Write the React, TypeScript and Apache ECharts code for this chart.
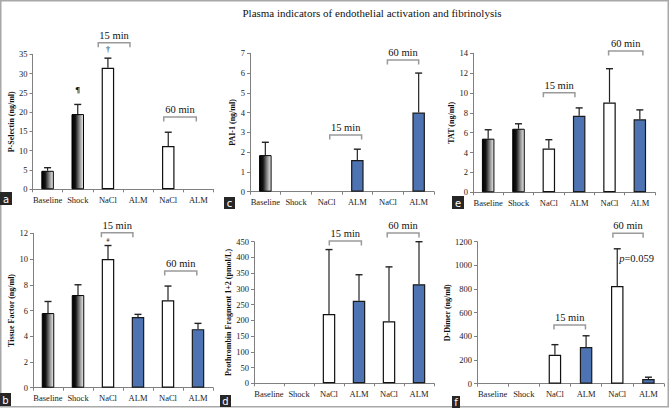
import React, { useEffect, useRef } from "react";
import * as echarts from "echarts";

const CATEGORIES = ["Baseline", "Shock", "NaCl", "ALM", "NaCl", "ALM"];
const FILLS = ["grad", "grad", "white", "blue", "white", "blue"];

// a: P-Selectin
const pSelectinMean = [4.8, 19.5, 31.5, null, 11.2, null];
const pSelectinTop = [5.6, 22.0, 34.0, null, 14.8, null];
// b: Tissue Factor
const tissueFactorMean = [5.8, 7.2, 10.0, 5.5, 6.8, 4.55];
const tissueFactorTop = [6.7, 8.0, 11.05, 5.7, 7.9, 5.0];
// c: PAI-1
const pai1Mean = [1.85, null, null, 1.6, null, 4.0];
const pai1Top = [2.5, null, null, 2.15, null, 6.0];
// d: Prothrombin Fragment 1+2
const f12Mean = [null, null, 220, 262, 197, 315];
const f12Top = [null, null, 425, 345, 370, 450];
// e: TAT
const tatMean = [5.4, 6.4, 4.4, 7.7, 9.05, 7.35];
const tatTop = [6.3, 6.9, 5.3, 8.5, 12.45, 8.3];
// f: D-Dimer
const dDimerMean = [null, null, 245, 310, 825, 40];
const dDimerTop = [null, null, 330, 405, 1140, 55];

// y-axis ranges [max, interval]
const yMaxA = [35, 5];
const yMaxB = [12, 2];
const yMaxC = [7, 1];
const yMaxD = [450, 50];
const yMaxE = [14, 2];
const yMaxF = [1200, 200];

// brackets: [startCat, endCat, yValue, label]
const bracketsA = [[1.68, 2.73, 38.0, "15 min"], [3.85, 4.93, 18.75, "60 min"]];
const bracketsB = [[1.78, 2.83, 12.05, "15 min"], [3.89, 4.96, 9.07, "60 min"]];
const bracketsC = [[2.1, 3.14, 2.87, "15 min"], [3.98, 5.0, 6.66, "60 min"]];
const bracketsD = [[2.01, 3.08, 452, "15 min"], [3.94, 5.0, 478, "60 min"]];
const bracketsE = [[1.82, 2.86, 10.03, "15 min"], [3.97, 5.1, 14.23, "60 min"]];
const bracketsF = [[1.97, 2.98, 496, "15 min"], [3.86, 4.83, 1271, "60 min"]];

// marks: [cat, yValue, text]
const marksA = [[1, 25.7, "¶"], [2, 36.3, "†"]];
const marksB = [[2, 11.45, "#"]];
const marksF = [[4.62, 1060, "{i|p}=0.059"]];

const NAMES = [
  "P-Selectin (ng/ml)",
  "Tissue Factor (ng/ml)",
  "PAI-1 (ng/ml)",
  "Prothrombin Fragment 1+2 (pmol/L)",
  "TAT (ng/ml)",
  "D-Dimer (ng/ml)",
];
const LETTERS = ["a", "b", "c", "d", "e", "f"];

const SERIF = "Liberation Serif, serif";

const panels = [
  { mean: pSelectinMean, top: pSelectinTop, y: yMaxA, br: bracketsA, marks: marksA },
  { mean: tissueFactorMean, top: tissueFactorTop, y: yMaxB, br: bracketsB, marks: marksB },
  { mean: pai1Mean, top: pai1Top, y: yMaxC, br: bracketsC, marks: [] },
  { mean: f12Mean, top: f12Top, y: yMaxD, br: bracketsD, marks: [] },
  { mean: tatMean, top: tatTop, y: yMaxE, br: bracketsE, marks: [] },
  { mean: dDimerMean, top: dDimerTop, y: yMaxF, br: bracketsF, marks: marksF },
];

// layout (pixels)
const GRIDS = [
  { left: 32.5, top: 54.3, width: 181, height: 135 },
  { left: 33, top: 233.3, width: 180, height: 154.4 },
  { left: 250, top: 53.3, width: 184, height: 138.4 },
  { left: 254, top: 241.7, width: 180, height: 141.6 },
  { left: 473, top: 53.3, width: 182, height: 139 },
  { left: 477, top: 241.7, width: 187, height: 142 },
];
const NAME_GAPS = [16, 17, 13, 18, 13, 20];
const LABEL_BOXES = [
  { x: 0, y: 192, w: 12, h: 13 },
  { x: 0, y: 393, w: 11, h: 13 },
  { x: 224, y: 197, w: 11, h: 12 },
  { x: 220, y: 395, w: 11, h: 12 },
  { x: 452, y: 196, w: 12, h: 13 },
  { x: 452, y: 396, w: 8, h: 12 },
];

function fillStyle(kind: string) {
  if (kind === "grad") {
    return {
      color: {
        type: "linear",
        x: 0,
        y: 0,
        x2: 1,
        y2: 0,
        colorStops: [
          { offset: 0, color: "#000000" },
          { offset: 0.3, color: "#141414" },
          { offset: 0.65, color: "#8a8a8a" },
          { offset: 1, color: "#f2f2f2" },
        ],
      },
      borderColor: "#000",
      borderWidth: 1,
    };
  }
  if (kind === "white") return { color: "#ffffff", borderColor: "#111", borderWidth: 1.2 };
  return { color: "#4d73b3", borderColor: "#1a1a1a", borderWidth: 1.2 };
}

function buildOption() {
  const grid: any[] = [];
  const xAxis: any[] = [];
  const yAxis: any[] = [];
  const series: any[] = [];
  const graphic: any[] = [];

  panels.forEach((p, k) => {
    grid.push({ ...GRIDS[k], containLabel: false });
    xAxis.push({
      type: "category",
      gridIndex: k,
      data: CATEGORIES,
      axisLine: { lineStyle: { color: "#808080", width: 1 } },
      axisTick: { show: true, length: 3, lineStyle: { color: "#808080" } },
      axisLabel: { fontFamily: SERIF, fontSize: 8.5, color: "#1a1a1a", margin: 6, interval: 0 },
      splitLine: { show: false },
    });
    yAxis.push({
      type: "value",
      gridIndex: k,
      min: 0,
      max: p.y[0],
      interval: p.y[1],
      name: NAMES[k],
      nameLocation: "middle",
      nameGap: NAME_GAPS[k],
      nameTextStyle: { fontFamily: SERIF, fontSize: 8, fontWeight: "bold", color: "#111" },
      axisLine: { show: true, lineStyle: { color: "#808080", width: 1 } },
      axisTick: { show: true, length: 3, lineStyle: { color: "#808080" } },
      axisLabel: {
        fontFamily: SERIF,
        fontSize: 8.5,
        color: "#1a1a1a",
        margin: 5,
        formatter: (v: number) => String(v),
      },
      splitLine: { show: false },
    });

    series.push({
      type: "bar",
      xAxisIndex: k,
      yAxisIndex: k,
      barWidth: 12.5,
      data: p.mean.map((v, i) =>
        v == null ? "-" : { value: v, itemStyle: fillStyle(FILLS[i]) }
      ),
      z: 2,
    });

    const errData = p.mean
      .map((v, i) => (v == null ? null : [i, v, p.top[i]]))
      .filter((d) => d !== null);
    series.push({
      type: "custom",
      xAxisIndex: k,
      yAxisIndex: k,
      z: 3,
      clip: false,
      data: errData,
      renderItem: (params: any, api: any) => {
        const d = errData[params.dataIndex] as number[];
        const p0 = api.coord([d[0], d[1]]);
        const p1 = api.coord([d[0], d[2]]);
        return {
          type: "group",
          children: [
            {
              type: "line",
              shape: { x1: p0[0], y1: p0[1], x2: p1[0], y2: p1[1] },
              style: { stroke: "#222", lineWidth: 1.2 },
            },
            {
              type: "line",
              shape: { x1: p1[0] - 3.5, y1: p1[1], x2: p1[0] + 3.5, y2: p1[1] },
              style: { stroke: "#222", lineWidth: 1.4 },
            },
          ],
        };
      },
    });

    const br = p.br;
    series.push({
      type: "custom",
      xAxisIndex: k,
      yAxisIndex: k,
      z: 4,
      clip: false,
      data: br.map((b) => [0, b[2]]),
      renderItem: (params: any, api: any) => {
        const b = br[params.dataIndex] as any[];
        const base = api.coord([0, b[2]]);
        const bw = api.size([1, 0])[0];
        const x1 = base[0] + b[0] * bw;
        const x2 = base[0] + b[1] * bw;
        const y = base[1];
        return {
          type: "group",
          children: [
            {
              type: "polyline",
              shape: { points: [[x1, y + 4.5], [x1, y], [x2, y], [x2, y + 4.5]] },
              style: { stroke: "#9a9a9a", lineWidth: 1.5, fill: "none" },
            },
            {
              type: "text",
              x: (x1 + x2) / 2,
              y: y - 2,
              style: {
                text: b[3],
                align: "center",
                verticalAlign: "bottom",
                fontFamily: SERIF,
                fontSize: 10.5,
                fill: "#111",
              },
            },
          ],
        };
      },
    });

    const marks = p.marks;
    if (marks.length) {
      series.push({
        type: "custom",
        xAxisIndex: k,
        yAxisIndex: k,
        z: 4,
        clip: false,
        data: marks.map((m) => [0, m[1]]),
        renderItem: (params: any, api: any) => {
          const m = marks[params.dataIndex] as any[];
          const base = api.coord([0, m[1]]);
          const bw = api.size([1, 0])[0];
          const isP = String(m[2]).indexOf("{i|") === 0;
          const style: any = {
            text: m[2],
            align: "center",
            verticalAlign: "middle",
            fontFamily: SERIF,
            fontSize: isP ? 10.5 : m[2] === "#" ? 6 : 9,
            fontWeight: m[2] === "¶" ? "bold" : "normal",
            fill: "#111111",
            opacity: 1,
          };
          if (isP) {
            style.rich = { i: { fontStyle: "italic", fontFamily: SERIF, fontSize: 10.5, fill: "#111" } };
          }
          return {
            type: "text",
            x: base[0] + m[0] * bw,
            y: base[1],
            style,
          };
        },
      });
    }

    const lb = LABEL_BOXES[k];
    graphic.push({
      type: "rect",
      shape: { x: lb.x, y: lb.y, width: lb.w, height: lb.h },
      style: { fill: "#262626" },
      z: 10,
    });
    graphic.push({
      type: "text",
      x: lb.x + lb.w / 2,
      y: lb.y + lb.h / 2 + 0.5,
      style: {
        text: LETTERS[k],
        align: "center",
        verticalAlign: "middle",
        fontFamily: "DejaVu Sans, sans-serif",
        fontSize: 10,
        fill: "#ffffff",
      },
      z: 11,
    });
  });

  graphic.push({
    type: "text",
    x: 372,
    y: 13,
    style: {
      text: "Plasma indicators of endothelial activation and fibrinolysis",
      align: "center",
      verticalAlign: "middle",
      fontFamily: SERIF,
      fontSize: 11,
      fill: "#111",
    },
  });
  graphic.push({
    type: "rect",
    shape: { x: 0.75, y: 0.75, width: 667.5, height: 406 },
    style: { fill: "none", stroke: "#a8a8a8", lineWidth: 1.5 },
    z: 0,
  });

  return {
    animation: false,
    backgroundColor: "#ffffff",
    grid,
    xAxis,
    yAxis,
    series,
    graphic,
  };
}

export default function App() {
  const ref = useRef<HTMLDivElement>(null);
  useEffect(() => {
    document.body.style.margin = "0";
    if (!ref.current) return;
    const chart = echarts.init(ref.current, null, { renderer: "svg" });
    chart.setOption(buildOption() as any);
    return () => chart.dispose();
  }, []);
  return <div ref={ref} style={{ width: 669, height: 408 }} />;
}
